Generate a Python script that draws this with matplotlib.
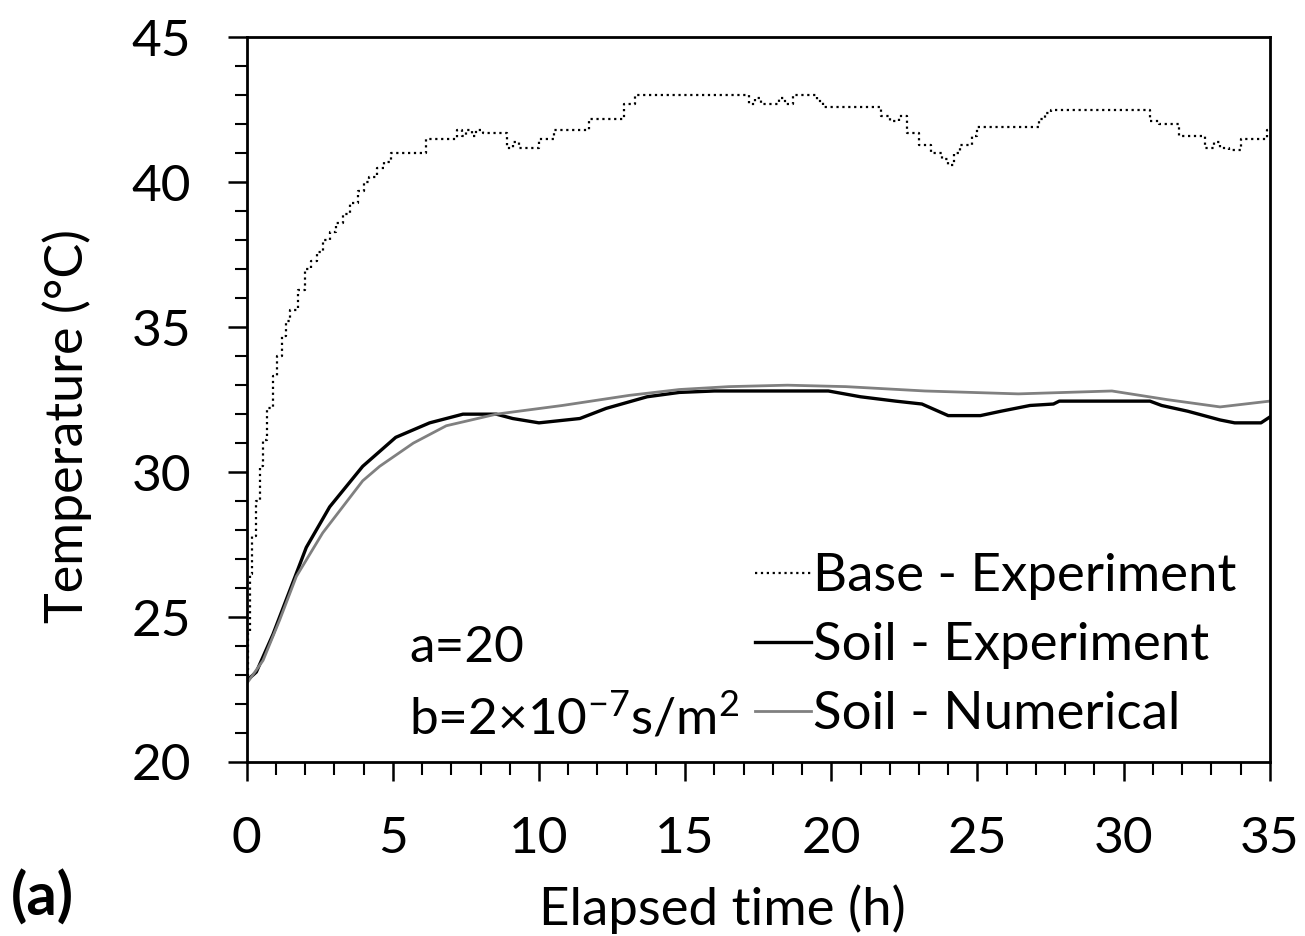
import numpy as np
import matplotlib.pyplot as plt
from matplotlib.ticker import MultipleLocator

plt.rcParams['font.family'] = ['Lato', 'DejaVu Sans']
plt.rcParams['mathtext.default'] = 'regular'

# Base - Experiment (stepped, logger resolution)
base_t = [0, 0.05, 0.1, 0.2, 0.33, 0.45, 0.56, 0.7, 0.9, 1.05, 1.2, 1.35, 1.5, 1.75,
          2.0, 2.2, 2.4, 2.6, 2.85, 3.05, 3.3, 3.55, 3.8, 4.0, 4.2, 4.45, 4.7, 4.95,
          6.15, 7.2, 7.35, 7.5, 7.7, 7.85, 8.1, 8.9, 9.1, 9.3, 9.7, 10.0, 10.5,
          11.7, 12.9, 13.3, 17.2, 17.4, 17.6, 18.2, 18.4, 18.7, 19.5, 19.7, 21.7,
          22.0, 22.3, 22.6, 23.0, 23.4, 23.8, 24.0, 24.2, 24.4, 24.8, 25.0, 27.1,
          27.3, 27.5, 30.9, 31.2, 31.9, 32.8, 33.1, 33.3, 33.6, 34.0, 34.9, 35.0]
base_T = [22.8, 24.5, 26.5, 27.8, 29.0, 30.2, 31.1, 32.2, 33.3, 34.0, 34.7, 35.2, 35.6, 36.3,
          37.0, 37.3, 37.6, 38.0, 38.3, 38.6, 38.9, 39.3, 39.7, 40.0, 40.2, 40.5, 40.7, 41.0,
          41.5, 41.8, 41.6, 41.8, 41.6, 41.8, 41.7, 41.2, 41.4, 41.2, 41.2, 41.5, 41.8,
          42.2, 42.7, 43.0, 42.7, 42.9, 42.7, 42.9, 42.7, 43.0, 42.8, 42.6, 42.3,
          42.1, 42.3, 41.7, 41.3, 41.0, 40.8, 40.6, 41.0, 41.3, 41.6, 41.9, 42.2,
          42.4, 42.5, 42.1, 42.0, 41.6, 41.2, 41.4, 41.2, 41.1, 41.5, 41.8, 41.8]

# Soil - Experiment
soil_t = [0, 0.33, 0.9, 1.47, 2.04, 2.84, 3.97, 5.1, 6.26, 7.4, 8.54, 9.1, 10.0, 11.4,
          12.3, 13.7, 14.8, 16.0, 19.9, 21.0, 22.2, 23.1, 24.0, 25.1, 25.8, 26.8, 27.6,
          27.8, 30.9, 31.3, 32.2, 33.3, 33.8, 34.7, 35.0]
soil_T = [22.8, 23.1, 24.4, 25.9, 27.4, 28.8, 30.2, 31.2, 31.7, 32.0, 32.0, 31.85, 31.7, 31.85,
          32.2, 32.6, 32.75, 32.8, 32.8, 32.6, 32.45, 32.35, 31.95, 31.95, 32.1, 32.3, 32.35,
          32.45, 32.45, 32.3, 32.1, 31.8, 31.7, 31.7, 31.9]

# Soil - Numerical
num_t = [0, 0.56, 1.13, 1.7, 2.6, 3.97, 4.55, 5.7, 6.83, 8.54, 10.8, 13.1, 14.8, 16.5,
         18.5, 20.5, 23.2, 26.4, 29.6, 31.5, 33.3, 35.0]
num_T = [22.7, 23.5, 24.9, 26.4, 27.9, 29.7, 30.2, 31.0, 31.6, 32.0, 32.3, 32.65, 32.85, 32.95,
         33.0, 32.95, 32.8, 32.7, 32.8, 32.5, 32.25, 32.45]

fig = plt.figure(figsize=(13.05, 9.36), dpi=100)
ax = fig.add_axes([0.189, 0.186, 0.784, 0.774])

ax.plot(base_t, base_T, color='black', linestyle=':', linewidth=1.6,
        drawstyle='steps-post', label='Base - Experiment')
ax.plot(soil_t, soil_T, color='black', linewidth=2.4, label='Soil - Experiment')
ax.plot(num_t, num_T, color='#808080', linewidth=2.0, label='Soil - Numerical')

ax.set_xlim(0, 35)
ax.set_ylim(20, 45)
ax.xaxis.set_major_locator(MultipleLocator(5))
ax.xaxis.set_minor_locator(MultipleLocator(1))
ax.yaxis.set_major_locator(MultipleLocator(5))
ax.yaxis.set_minor_locator(MultipleLocator(1))
ax.tick_params(axis='both', which='major', direction='out', length=14, width=1.8,
               labelsize=37)
ax.tick_params(axis='x', which='major', pad=25)
ax.tick_params(axis='y', which='major', pad=26)
ax.tick_params(axis='both', which='minor', direction='out', length=9, width=1.5)
for s in ax.spines.values():
    s.set_linewidth(2.0)

ax.set_xlabel('Elapsed time (h)', fontsize=38, labelpad=16)
ax.set_ylabel('Temperature (°C)', fontsize=37.5, labelpad=28)
# labels sit a bit off-centre in the original
ax.xaxis.label.set_x(0.465)
ax.yaxis.label.set_y(0.463)

leg = ax.legend(loc='lower right', bbox_to_anchor=(0.978, 0.018), frameon=False,
                fontsize=38, handlelength=1.05, handletextpad=0.05, labelspacing=0.42,
                borderaxespad=0, borderpad=0.2)

ax.text(0.159, 0.138, 'a=20', transform=ax.transAxes, fontsize=37)
ax.text(0.159, 0.038, r'b=2×10$^{-7}$s/m$^{2}$', transform=ax.transAxes, fontsize=37)

fig.text(0.008, 0.022, '(a)', fontsize=43, fontweight='bold')

fig.savefig('out.png', dpi=100)
